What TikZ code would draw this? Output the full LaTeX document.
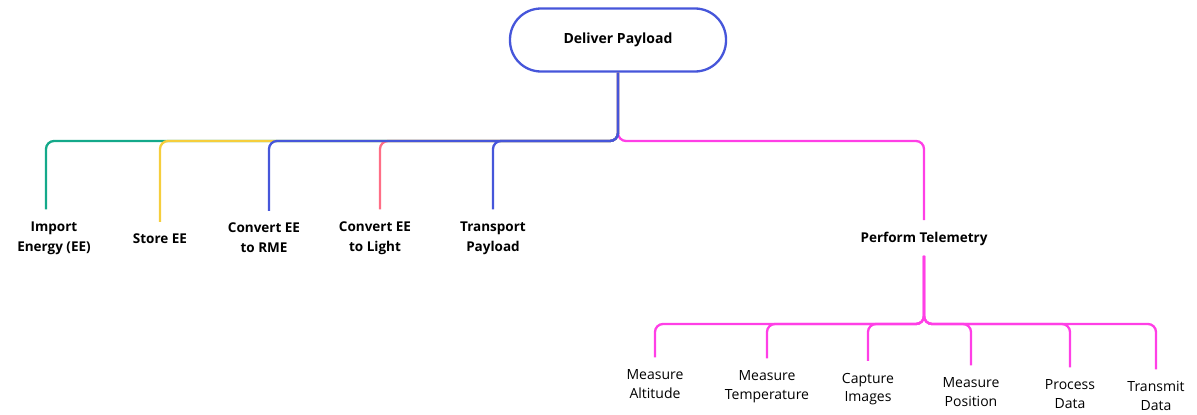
\documentclass[tikz,border=0pt]{standalone}
\usepackage{fontspec}
\setmainfont{Open Sans}
\usetikzlibrary{positioning}
\definecolor{mgreen}{HTML}{14A98A}
\definecolor{myellow}{HTML}{F6CE3C}
\definecolor{mblue}{HTML}{4656DA}
\definecolor{mred}{HTML}{FF6E86}
\definecolor{mpink}{HTML}{FF3FE6}
\tikzstyle{root} = [rectangle, rounded corners=31pt, minimum width=216pt, minimum height=63pt, text centered, draw=mblue, line width=2.3pt, font=\fontsize{14}{17}\selectfont\bfseries]
\tikzstyle{func} = [align=center, inner sep=0pt, font=\fontsize{13.5}{20}\selectfont\bfseries]
\tikzstyle{subfunc} = [align=center, inner sep=0pt, font=\fontsize{14}{18.5}\selectfont]
\tikzset{branch/.style={line width=2.3pt, rounded corners=8pt, shorten >=12pt},
         sub/.style={line width=2.3pt, rounded corners=8pt, mpink, shorten >=12pt}
}

\begin{document}
\begin{tikzpicture}[x=1pt,y=1pt]
\useasboundingbox (0,0) rectangle (1197,-415);
\node (root) [root] at (618,-40) {Deliver Payload};
\coordinate (bus) at (618,-141);

\node (fun1) [func] at (54,-238) {Import\\Energy (EE)};
\node (fun2) [func] at (160,-239) {Store EE};
\node (fun3) [func] at (264,-238) {Convert EE\\to RME};
\node (fun4) [func] at (375,-238) {Convert EE\\to Light};
\node (fun5) [func] at (493,-238) {Transport\\Payload};
\node (fun6) [func] at (924,-239) {Perform Telemetry};
\coordinate (tbus) at (924,-324);

\node (sub1) [subfunc] at (655,-384) {Measure\\Altitude};
\node (sub2) [subfunc] at (767,-386.5) {Measure\\Temperature};
\node (sub3) [subfunc] at (868,-389) {Capture\\Images};
\node (sub4) [subfunc] at (971,-392) {Measure\\Position};
\node (sub5) [subfunc] at (1070,-394) {Process\\Data};
\node (sub6) [subfunc] at (1156,-396) {Transmit\\Data};

% first level
\draw [branch,mpink] (root.south) -- (bus) -| (fun6.north);
\draw [branch,mgreen] (root.south) -- (bus) -| ([xshift=-8pt]fun1.north);
\draw [branch,myellow] (root.south) -- (bus) -| (fun2.north);
\draw [branch,mred] (root.south) -- (bus) -| ([xshift=5pt]fun4.north);
\draw [branch,mblue] (root.south) -- (bus) -| ([xshift=5pt]fun3.north);
\draw [branch,mblue] (root.south) -- (bus) -| (fun5.north);

% telemetry
\foreach \i in {1,...,6}
  \draw [sub,shorten <=10pt] (fun6.south) -- (tbus) -| (sub\i.north);
\end{tikzpicture}
\end{document}
